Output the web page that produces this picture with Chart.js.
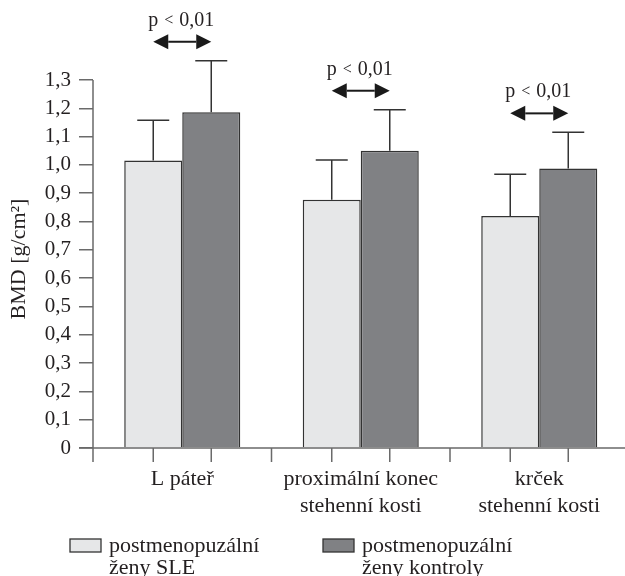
<!DOCTYPE html>
<html>
<head>
<meta charset="utf-8">
<script src="https://cdn.jsdelivr.net/npm/chart.js@4"></script>
<style>
  html, body { margin: 0; padding: 0; background: #fff; overflow: hidden; }
  canvas { display: block; }
</style>
</head>
<body>
<canvas id="bmd" width="630" height="576"></canvas>
<script>
// Measurement sites (multi-line axis labels)
const categories = [["L páteř"], ["proximální konec", "stehenní kosti"], ["krček", "stehenní kosti"]];
// Mean BMD and SD, postmenopausal women with SLE
const sleMean = [1.016, 0.877, 0.82];
const sleSD = [0.142, 0.14, 0.147];
// Mean BMD and SD, postmenopausal control women
const ctrlMean = [1.186, 1.05, 0.987];
const ctrlSD = [0.182, 0.145, 0.128];
// Significance notes per site
const pLabels = ["p < 0,01", "p < 0,01", "p < 0,01"];
// Legend entries
const legendLabels = [["postmenopuzální", "ženy SLE"], ["postmenopuzální", "ženy kontroly"]];
// Y axis ticks
const yTickValues = [0, 0.1, 0.2, 0.3, 0.4, 0.5, 0.6, 0.7, 0.8, 0.9, 1.0, 1.1, 1.2, 1.3];
const yTitle = "BMD [g/cm²]";

const FONT = "'Liberation Serif', 'Times New Roman', serif";
const INK = '#231f20';
const AXIS = '#6a6a6a';
const LIGHT = '#e6e7e8';
const DARK = '#808184';
const EDGE = '#333333';

const overlay = {
  id: 'overlay',
  afterDatasetsDraw(chart) {
    const ctx = chart.ctx;
    const ys = chart.scales.y;
    const xs = chart.scales.x;
    const area = chart.chartArea;
    const m0 = chart.getDatasetMeta(0).data;
    const m1 = chart.getDatasetMeta(1).data;
    ctx.save();

    // axis lines
    ctx.strokeStyle = AXIS;
    ctx.lineWidth = 1.5;
    ctx.beginPath();
    ctx.moveTo(area.left, area.top);
    ctx.lineTo(area.left, area.bottom + 14);
    ctx.moveTo(area.left - 14, area.bottom);
    ctx.lineTo(chart.width, area.bottom);
    ctx.stroke();

    // x ticks: under each bar and between sites
    ctx.beginPath();
    const tickXs = [];
    m0.forEach((b) => tickXs.push(b.x));
    m1.forEach((b) => tickXs.push(b.x));
    for (let i = 1; i < categories.length; i++) {
      tickXs.push((xs.getPixelForValue(i - 1) + xs.getPixelForValue(i)) / 2);
    }
    tickXs.forEach((tx) => {
      ctx.moveTo(tx, area.bottom);
      ctx.lineTo(tx, area.bottom + 14);
    });
    ctx.stroke();

    // y axis title
    ctx.save();
    ctx.translate(19, (area.top + area.bottom) / 2 - 5);
    ctx.rotate(-Math.PI / 2);
    ctx.font = '22px ' + FONT;
    ctx.fillStyle = INK;
    ctx.textAlign = 'center';
    ctx.textBaseline = 'middle';
    ctx.fillText(yTitle, 0, 0);
    ctx.restore();

    // error bars (mean + SD)
    ctx.strokeStyle = EDGE;
    ctx.lineWidth = 1.5;
    [[m0, sleMean, sleSD], [m1, ctrlMean, ctrlSD]].forEach(([bars, mean, sd]) => {
      bars.forEach((bar, i) => {
        const yTop = ys.getPixelForValue(mean[i] + sd[i]);
        ctx.beginPath();
        ctx.moveTo(bar.x, bar.y);
        ctx.lineTo(bar.x, yTop);
        ctx.moveTo(bar.x - 16, yTop);
        ctx.lineTo(bar.x + 16, yTop);
        ctx.stroke();
      });
    });

    // significance arrows and p-values
    categories.forEach((c, i) => {
      const a = m0[i].x, b = m1[i].x;
      const top = Math.min(ys.getPixelForValue(sleMean[i] + sleSD[i]),
                           ys.getPixelForValue(ctrlMean[i] + ctrlSD[i]));
      const ay = top - 19;
      const head = 15, half = 7.5;
      ctx.fillStyle = '#1a1a1a';
      ctx.strokeStyle = '#1a1a1a';
      ctx.lineWidth = 2;
      ctx.beginPath();
      ctx.moveTo(a + head, ay);
      ctx.lineTo(b - head, ay);
      ctx.stroke();
      ctx.beginPath();
      ctx.moveTo(a, ay);
      ctx.lineTo(a + head, ay - half);
      ctx.lineTo(a + head, ay + half);
      ctx.closePath();
      ctx.fill();
      ctx.beginPath();
      ctx.moveTo(b, ay);
      ctx.lineTo(b - head, ay - half);
      ctx.lineTo(b - head, ay + half);
      ctx.closePath();
      ctx.fill();

      // "p < 0,01" with a smaller comparison sign
      const parts = pLabels[i].split('<');
      const left = parts[0].trim(), right = parts[1].trim();
      const big = '20px ' + FONT, small = '16px ' + FONT;
      ctx.font = big;
      const wl = ctx.measureText(left).width;
      const wr = ctx.measureText(right).width;
      ctx.font = small;
      const ws = ctx.measureText('<').width;
      const gap = 6;
      const total = wl + gap + ws + gap + wr;
      let tx = (a + b) / 2 - 1 - total / 2;
      const ty = ay - 16;
      ctx.fillStyle = INK;
      ctx.textBaseline = 'alphabetic';
      ctx.textAlign = 'left';
      ctx.font = big;
      ctx.fillText(left, tx, ty);
      tx += wl + gap;
      ctx.font = small;
      ctx.fillText('<', tx, ty - 1);
      tx += ws + gap;
      ctx.font = big;
      ctx.fillText(right, tx, ty);
    });

    // legend
    const legendPos = [[70, 539], [323, 539]];
    const fills = [LIGHT, DARK];
    ctx.font = '22px ' + FONT;
    ctx.textAlign = 'left';
    ctx.textBaseline = 'alphabetic';
    legendLabels.forEach((lines, k) => {
      const [lx, ly] = legendPos[k];
      ctx.fillStyle = fills[k];
      ctx.fillRect(lx, ly, 31, 13);
      ctx.strokeStyle = EDGE;
      ctx.lineWidth = 1.3;
      ctx.strokeRect(lx, ly, 31, 13);
      ctx.fillStyle = INK;
      lines.forEach((t, j) => ctx.fillText(t, lx + 39, ly + 13 + j * 22));
    });

    ctx.restore();
  }
};

new Chart(document.getElementById('bmd'), {
  type: 'bar',
  data: {
    labels: categories,
    datasets: [
      { label: legendLabels[0].join(' '), data: sleMean, backgroundColor: LIGHT,
        borderColor: EDGE, borderWidth: 1.5 },
      { label: legendLabels[1].join(' '), data: ctrlMean, backgroundColor: DARK,
        borderColor: EDGE, borderWidth: 1.5 }
    ]
  },
  options: {
    responsive: false,
    animation: false,
    devicePixelRatio: 1,
    categoryPercentage: 0.65,
    barPercentage: 1,
    layout: { padding: { top: 80, right: 1.5, left: 0, bottom: 0 } },
    plugins: { legend: { display: false }, tooltip: { enabled: false } },
    scales: {
      x: {
        grid: { display: false, drawTicks: false },
        border: { display: false },
        ticks: {
          font: { family: FONT, size: 22, lineHeight: 1.23 },
          color: INK,
          padding: 18,
          maxRotation: 0,
          autoSkip: false
        },
        afterFit: (s) => { s.height = 128; }
      },
      y: {
        min: 0,
        max: 1.3,
        afterBuildTicks: (s) => { s.ticks = yTickValues.map((v) => ({ value: v })); },
        ticks: {
          font: { family: FONT, size: 21 },
          color: INK,
          padding: 8,
          callback: (v) => (v === 0 ? '0' : Number(v).toFixed(1).replace('.', ','))
        },
        grid: { drawOnChartArea: false, drawTicks: true, tickLength: 14, color: AXIS, lineWidth: 1.5 },
        border: { display: false },
        title: { display: false },
        afterFit: (s) => { s.width = 93; }
      }
    }
  },
  plugins: [overlay]
});
</script>
</body>
</html>
